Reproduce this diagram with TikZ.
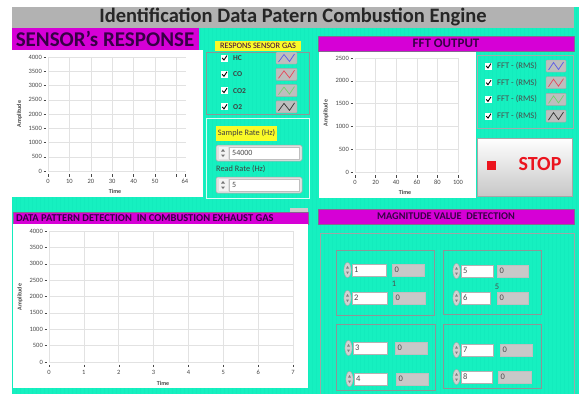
\documentclass[tikz,border=0pt]{standalone}
\usepackage{fontspec}
\setmainfont{Carlito}
\definecolor{aquabg}{RGB}{22,240,192}
\definecolor{gridaq}{RGB}{19,236,189}
\definecolor{magbar}{RGB}{214,0,214}
\definecolor{titlegray}{RGB}{178,178,178}
\definecolor{headtext}{RGB}{55,0,70}
\definecolor{labc}{RGB}{70,70,70}
\definecolor{gridc}{RGB}{226,226,226}
\definecolor{boxborder}{RGB}{140,150,150}
\definecolor{indgray}{RGB}{200,200,200}
\definecolor{swbg}{RGB}{190,190,190}
\definecolor{hcc}{RGB}{90,90,230}
\definecolor{coc}{RGB}{230,70,90}
\definecolor{co2c}{RGB}{110,210,110}
\definecolor{o2c}{RGB}{50,50,50}
\definecolor{stopred}{RGB}{235,20,30}
\definecolor{yel}{RGB}{250,250,40}
\begin{document}
\begin{tikzpicture}[x=1pt,y=-1pt,
  ylab/.style={font=\fontsize{6.5}{7}\selectfont, text=labc, inner sep=0pt, anchor=east},
  xlab/.style={font=\fontsize{6.5}{7}\selectfont, text=labc, inner sep=0pt},
  axname/.style={font=\bfseries\fontsize{6}{7}\selectfont, text=labc, inner sep=0pt},
  gline/.style={draw=gridc, line width=0.5pt},
  tickl/.style={draw=labc, line width=0.4pt},
  head/.style={font=\bfseries\fontsize{10}{11}\selectfont, text=headtext, inner sep=0pt},
  legtxt/.style={font=\bfseries\fontsize{7.5}{8}\selectfont, text=black!75, inner sep=0pt, anchor=west},
  ffttxt/.style={font=\fontsize{8.6}{9}\selectfont, text=black!70, inner sep=0pt, anchor=west},
  numtxt/.style={font=\fontsize{8.5}{9}\selectfont, text=black!70, inner sep=0pt, anchor=west},
  frame/.style={draw=boxborder, line width=0.8pt},
  whitefield/.style={fill=white, draw=black!30, line width=0.4pt},
  grayfield/.style={fill=indgray, draw=black!25, line width=0.4pt}
]
\useasboundingbox (0,0) rectangle (579,394);
\fill[white] (0,0) rectangle (579,394);
\fill[aquabg] (12,7) rectangle (579,394);
\draw[gridaq, line width=0.25pt, step=4] (12,7) grid (579,394);

% ---------- title ----------
\fill[titlegray] (12,7) rectangle (574,28);
\node[font=\bfseries\fontsize{20.5}{21}\selectfont, text=black!85, inner sep=0pt] (title) at (293,17.5) {Identification Data Patern Combustion Engine};

% ---------- sensor response ----------
\fill[magbar] (12,28) rectangle (199,50);
\node[font=\bfseries\fontsize{21}{21}\selectfont, text=headtext, inner sep=0pt] (sensorhead) at (105,39) {SENSOR's RESPONSE};
\fill[white] (12,50) rectangle (203,197);
\foreach \i in {0,...,8} {
  \draw[gline] (48,{171-14.25*\i}) -- (186,{171-14.25*\i});
  \pgfmathtruncatemacro{\v}{500*\i}
  \node[ylab] (sy\i) at (42,{171-14.25*\i}) {\v};
  \draw[tickl] (43.5,{171-14.25*\i}) -- (46,{171-14.25*\i});
}
\foreach \i in {0,...,6} \draw[gline] ({48+21.4*\i},57) -- ({48+21.4*\i},171);
\foreach \v in {0,10,20,30,40,50,64} {
  \node[xlab] (sx\v) at ({48+2.14*\v},181.5) {\v};
  \draw[tickl] ({48+2.14*\v},174) -- ({48+2.14*\v},176.5);
}
\draw[tickl] ({48+2.14*60},174) -- ({48+2.14*60},176.5);
\node[axname, rotate=90] (samp) at (19.5,114) {Amplitude};
\node[axname] (stime) at (115,191) {Time};

% ---------- legend sensor gas ----------
\fill[yel] (215,40.5) rectangle (301,51);
\node[font=\fontsize{8.3}{9}\selectfont, text=headtext, inner sep=0pt] (rsg) at (258,46) {RESPONS SENSOR GAS};
\draw[frame] (206,52) rectangle (309,114);
\foreach \n/\lab/\c [count=\k] in {hc/HC/hcc, co/CO/coc, cot/CO2/co2c, ot/O2/o2c} {
  \pgfmathsetmacro{\yy}{58+16.3*(\k-1)}
  \fill[white] (221,\yy-3.5) rectangle (228,\yy+3.5);
  \draw[black, line width=0.9pt] (222.2,\yy) -- (224,\yy+2) -- (227,\yy-2.5);
  \node[legtxt] (l\n) at (233,\yy) {\lab};
  \filldraw[fill=swbg, draw=black!35, line width=0.4pt, rounded corners=0.8pt] (276,\yy-6) rectangle (297,\yy+6);
  \draw[\c, line width=0.7pt] (278.5,\yy+4) -- (284,\yy-3.5) -- (289.5,\yy+3.5) -- (294.5,\yy-4);
}

% ---------- rates ----------
\draw[draw=white!85!aquabg, line width=0.9pt] (206,118) rectangle (309,198);
\fill[yel] (216,126) rectangle (277,141);
\node[font=\fontsize{8.3}{9}\selectfont, text=black!75, inner sep=0pt] (srl) at (246.5,133.5) {Sample Rate (Hz)};
\node[font=\fontsize{8.3}{9}\selectfont, text=black!75, inner sep=0pt, anchor=west] (rrl) at (216,169) {Read Rate (Hz)};
\foreach \n/\val/\yy in {sr/54000/153, rr/5/185} {
  \filldraw[fill=black!12, draw=black!35, line width=0.5pt, rounded corners=1.5pt] (216,\yy-8) rectangle (302,\yy+8);
  \fill[black!5] (218.5,\yy-6) rectangle (227.5,\yy+6);
  \fill[black!55] (221,\yy-1.5) -- (223,\yy-4) -- (225,\yy-1.5) -- cycle;
  \fill[black!55] (221,\yy+1.5) -- (223,\yy+4) -- (225,\yy+1.5) -- cycle;
  \filldraw[fill=white, draw=black!25, line width=0.4pt] (229.5,\yy-6) rectangle (299.5,\yy+6);
  \node[numtxt, font=\fontsize{8}{9}\selectfont] (\n) at (232,\yy) {\val};
}

% ---------- FFT ----------
\fill[magbar] (318,36) rectangle (574,51);
\draw[headtext!60, line width=0.5pt] (318,36) rectangle (574,51);
\node[head, font=\bfseries\fontsize{13}{13}\selectfont] (ffthead) at (446,43.5) {FFT OUTPUT};
\fill[white] (319,52) rectangle (476,198);
\foreach \i in {0,...,5} {
  \draw[gline] (355,{172-22.8*\i}) -- (459,{172-22.8*\i});
  \pgfmathtruncatemacro{\v}{500*\i}
  \node[ylab] (fy\i) at (349,{172-22.8*\i}) {\v};
  \draw[tickl] (350.5,{172-22.8*\i}) -- (353,{172-22.8*\i});
}
\foreach \v in {0,20,40,60,80,100} {
  \draw[gline] ({355+1.03*\v},58) -- ({355+1.03*\v},172);
  \node[xlab] (fx\v) at ({355+1.03*\v},182.5) {\v};
  \draw[tickl] ({355+1.03*\v},175) -- ({355+1.03*\v},177.5);
}
\node[axname, rotate=90] (famp) at (326,113) {Amplitude};
\node[axname] (ftime) at (405,192) {Time};

\draw[frame, draw=boxborder!80] (477,55) rectangle (573,128);
\foreach \c [count=\k] in {hcc,coc,co2c,o2c} {
  \pgfmathsetmacro{\yy}{66+16.7*(\k-1)}
  \fill[white] (485,\yy-3.5) rectangle (492,\yy+3.5);
  \draw[black, line width=0.9pt] (486.2,\yy) -- (488,\yy+2) -- (491,\yy-2.5);
  \node[ffttxt] (ff\k) at (497,\yy) {FFT - (RMS)};
  \filldraw[fill=swbg, draw=black!35, line width=0.4pt, rounded corners=0.8pt] (546,\yy-6) rectangle (566,\yy+6);
  \draw[\c, line width=0.7pt] (548.5,\yy+4) -- (553.5,\yy-3.5) -- (558.5,\yy+3.5) -- (563.5,\yy-4);
}

% ---------- STOP ----------
\shade[top color=white, bottom color=black!22] (477,138) rectangle (572,196);
\draw[black!35, line width=0.6pt] (477,138) rectangle (572,196);
\fill[stopred] (487,160.5) rectangle (496,169.5);
\node[font=\bfseries\fontsize{20}{20}\selectfont, text=stopred, inner sep=0pt] (stop) at (540,164) {STOP};

% ---------- data pattern ----------
\fill[black!20] (290,208) rectangle (308,212);
\fill[magbar] (13,212) rectangle (308,224);
\draw[headtext!60, line width=0.5pt] (13,212) rectangle (308,224);
\node[head, anchor=west, font=\bfseries\fontsize{10.5}{11}\selectfont] (dphead) at (16,218) {DATA PATTERN DETECTION \ IN COMBUSTION EXHAUST GAS};
\fill[white] (13,224) rectangle (308,388);
\foreach \i in {0,...,8} {
  \draw[gline] (49,{362-16.375*\i}) -- (294,{362-16.375*\i});
  \pgfmathtruncatemacro{\v}{500*\i}
  \node[ylab] (dy\i) at (43,{362-16.375*\i}) {\v};
  \draw[tickl] (44.5,{362-16.375*\i}) -- (47,{362-16.375*\i});
}
\foreach \v in {0,...,7} {
  \draw[gline] ({49+34.86*\v},231) -- ({49+34.86*\v},362);
  \node[xlab] (dx\v) at ({49+34.86*\v},372.5) {\v};
  \draw[tickl] ({49+34.86*\v},364.5) -- ({49+34.86*\v},367);
}
\node[axname, rotate=90] (damp) at (20,297) {Amplitude};
\node[axname] (dtime) at (163,383) {Time};

% ---------- magnitude ----------
\fill[magbar] (318,209) rectangle (574,224);
\draw[headtext!60, line width=0.5pt] (318,209) rectangle (574,224);
\node[head, font=\bfseries\fontsize{10.3}{11}\selectfont] (maghead) at (446,216.5) {MAGNITUDE VALUE \ DETECTION};
\draw[frame, draw=boxborder!85] (320,233) rectangle (574,396);
\foreach \n/\xa/\ya/\xb/\yb in {b1/336/250/434/315, b2/443/250/541/314, b3/336/324/435/390, b4/443/324/541/388}
  \draw[frame] (\xa,\ya) rectangle (\xb,\yb);
\foreach \n/\val/\wa/\wb/\yy/\ga/\gb in {
   c1/1/352/386/270/392/424,
   c2/2/352/387/298/393/425,
   c5/5/461/493/271/497/528,
   c6/6/461/490/298/497/528,
   c3/3/353/387/348/395/427,
   c4/4/354/387/379/396/428,
   c7/7/461/493/350/500/532,
   c8/8/461/492/377/498/531} {
  \filldraw[fill=black!18, draw=black!35, line width=0.4pt] (\wa-4.5,\yy) ellipse (3.6pt and 7.5pt);
  \fill[black!50] (\wa-6,\yy-1.5) -- (\wa-4.5,\yy-4) -- (\wa-3,\yy-1.5) -- cycle;
  \fill[black!50] (\wa-6,\yy+1.5) -- (\wa-4.5,\yy+4) -- (\wa-3,\yy+1.5) -- cycle;
  \filldraw[whitefield] (\wa,\yy-6) rectangle (\wb,\yy+6);
  \node[numtxt] (\n) at (\wa+2,\yy) {\val};
  \filldraw[grayfield] (\ga,\yy-6) rectangle (\gb,\yy+6);
  \node[numtxt] (\n g) at (\ga+2.5,\yy) {0};
}
\node[numtxt, anchor=center] (m1) at (394,284) {1};
\node[numtxt, anchor=center] (m5) at (497,287) {5};
\end{tikzpicture}
\end{document}
